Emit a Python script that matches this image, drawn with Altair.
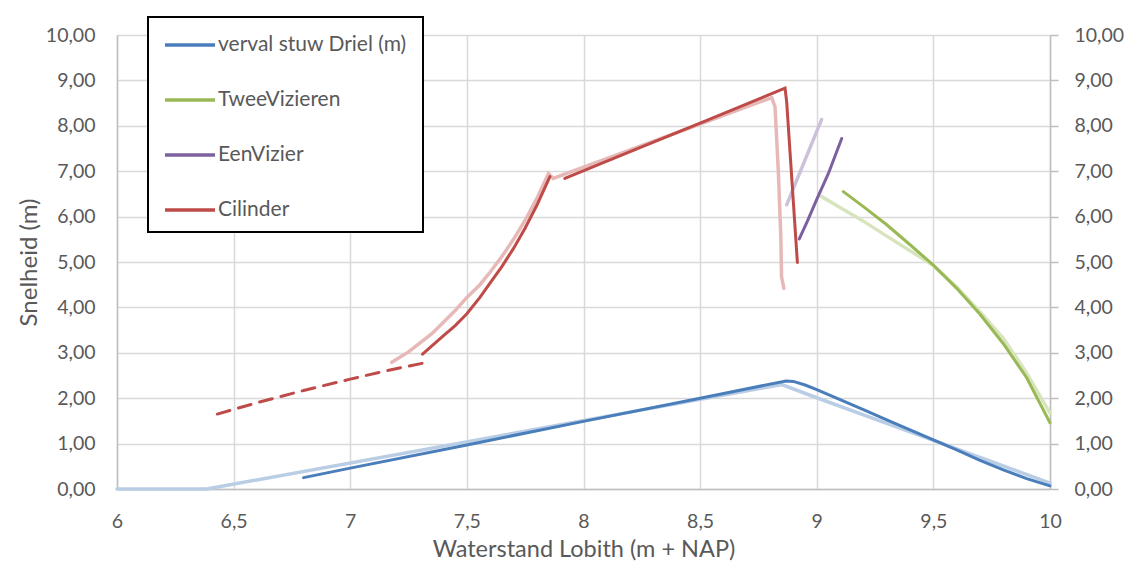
import altair as alt
import pandas as pd

# ---------------- data ----------------
NAMES = ["verval stuw Driel (m)", "TweeVizieren", "EenVizier", "Cilinder"]
LIGHT = ["verval licht", "TweeVizieren licht", "EenVizier licht", "Cilinder licht"]
DARK_COLORS = ["#4a7ebb", "#98b954", "#7d60a0", "#be4b48"]
LIGHT_COLORS = ["#b9cde5", "#d7e4bd", "#ccc1da", "#e6b9b8"]

x_ticks = [6, 6.5, 7, 7.5, 8, 8.5, 9, 9.5, 10]
y_ticks = [0, 1, 2, 3, 4, 5, 6, 7, 8, 9, 10]

# verval stuw Driel
blue_x = [6.80, 7.0, 7.5, 8.0, 8.5, 8.868, 8.9, 8.95, 9.0, 9.05, 9.1, 9.2, 9.3, 9.4,
          9.5, 9.6, 9.7, 9.8, 9.9, 10.0]
blue_y = [0.25, 0.46, 0.97, 1.49, 2.00, 2.38, 2.37, 2.29, 2.19, 2.08, 1.97, 1.75, 1.52, 1.30,
          1.08, 0.86, 0.63, 0.42, 0.23, 0.07]
blue_l_x = [6.0, 6.385, 8.85, 9.0, 9.25, 9.5, 9.75, 10.0]
blue_l_y = [0.0, 0.0, 2.30, 2.01, 1.54, 1.07, 0.60, 0.13]

# TweeVizieren
green_x = [9.114, 9.2, 9.3, 9.4, 9.5, 9.6, 9.7, 9.8, 9.9, 10.0]
green_y = [6.55, 6.22, 5.82, 5.38, 4.93, 4.42, 3.85, 3.20, 2.45, 1.46]
green_l_x = [9.021, 9.1, 9.2, 9.3, 9.4, 9.5, 9.6, 9.7, 9.8, 9.9, 10.0]
green_l_y = [6.44, 6.20, 5.90, 5.57, 5.25, 4.92, 4.45, 3.90, 3.32, 2.55, 1.67]

# EenVizier
purple_x = [8.925, 8.96, 9.0, 9.05, 9.107]
purple_y = [5.51, 5.90, 6.38, 6.95, 7.72]
purple_l_x = [8.871, 8.946, 9.021]
purple_l_y = [6.26, 7.20, 8.14]

# Cilinder (two solid pieces + dashed start)
red_a_x = [7.31, 7.35, 7.4, 7.45, 7.5, 7.556, 7.6, 7.65, 7.7, 7.75, 7.8, 7.856]
red_a_y = [2.97, 3.15, 3.38, 3.60, 3.86, 4.22, 4.54, 4.90, 5.30, 5.75, 6.25, 6.88]
red_b_x = [7.92, 8.2, 8.5, 8.864, 8.871, 8.917]
red_b_y = [6.84, 7.43, 8.06, 8.83, 8.53, 4.99]
red_dash_x = [6.43, 6.6, 6.8, 7.0, 7.15, 7.31]
red_dash_y = [1.65, 1.90, 2.17, 2.42, 2.60, 2.77]
red_l_x = [7.178, 7.25, 7.35, 7.45, 7.5, 7.556, 7.6, 7.65, 7.7, 7.75, 7.8, 7.85, 7.87,
           8.2, 8.5, 8.807, 8.821, 8.835, 8.846, 8.849, 8.859]
red_l_y = [2.79, 3.02, 3.42, 3.93, 4.22, 4.50, 4.78, 5.12, 5.50, 5.92, 6.40, 6.95, 6.84,
           7.47, 8.04, 8.62, 8.42, 7.03, 5.56, 4.68, 4.42]

# ---------------- tables ----------------
def table(parts):
    rows = []
    for series, seg, xs, ys in parts:
        for i, (x, y) in enumerate(zip(xs, ys)):
            rows.append({"series": series, "seg": seg, "x": x, "y": y, "i": i})
    return pd.DataFrame(rows)

light_df = table([
    (LIGHT[0], "bl", blue_l_x, blue_l_y),
    (LIGHT[1], "gl", green_l_x, green_l_y),
    (LIGHT[2], "pl", purple_l_x, purple_l_y),
    (LIGHT[3], "rl", red_l_x, red_l_y),
])
dark_df = table([
    (NAMES[0], "b", blue_x, blue_y),
    (NAMES[1], "g", green_x, green_y),
    (NAMES[2], "p", purple_x, purple_y),
    (NAMES[3], "ra", red_a_x, red_a_y),
    (NAMES[3], "rb", red_b_x, red_b_y),
])
dash_df = table([(NAMES[3], "rd", red_dash_x, red_dash_y)])

FONT = "Lato"
GREY = "#595959"
fmt_y = "replace(format(datum.value, '.2f'), '.', ',')"
fmt_x = "replace(format(datum.value, '~g'), '.', ',')"

x_scale = alt.Scale(domain=[6, 10], nice=False, zero=False)
y_scale = alt.Scale(domain=[0, 10], nice=False)

x_axis = alt.Axis(values=x_ticks, labelExpr=fmt_x, title="Waterstand Lobith (m + NAP)",
                  grid=True, gridColor="#d9d9d9", gridWidth=1.5, labelFlush=False,
                  domainColor="#bfbfbf", domainWidth=1.5, ticks=False, tickSize=0,
                  labelPadding=23, labelFontSize=19.5, labelColor=GREY, labelFont=FONT,
                  titleFontSize=23.5, titleColor=GREY, titleFont=FONT, titleFontWeight="normal",
                  titlePadding=7)
y_axis_left = alt.Axis(values=y_ticks, labelExpr=fmt_y, title="Snelheid (m)", orient="left",
                       grid=True, gridColor="#d9d9d9", gridWidth=1.5, labelFlush=False,
                       domainColor="#bfbfbf", domainWidth=1.5, ticks=False, tickSize=0,
                       labelPadding=22, labelFontSize=19.5, labelColor=GREY, labelFont=FONT,
                       titleFontSize=24, titleColor=GREY, titleFont=FONT, titleFontWeight="normal",
                       titlePadding=4)
y_axis_right = alt.Axis(values=y_ticks, labelExpr=fmt_y, title=None, orient="right",
                        grid=False, domainColor="#bfbfbf", domainWidth=1.5, labelFlush=False,
                        ticks=True, tickSize=8, tickColor="#bfbfbf", tickWidth=1.5,
                        labelPadding=16, labelFontSize=19.5, labelColor=GREY, labelFont=FONT)

color = alt.Color("series:N",
                  scale=alt.Scale(domain=NAMES + LIGHT, range=DARK_COLORS + LIGHT_COLORS),
                  legend=alt.Legend(values=NAMES, title=" ", titleOrient="bottom",
                                    titleFontSize=8, titlePadding=3,
                                    orient="none", legendX=31, legendY=-18,
                                    symbolType="stroke", symbolSize=2500,
                                    symbolStrokeWidth=3.5, symbolOffset=14,
                                    labelFontSize=21, labelColor=GREY, labelFont=FONT,
                                    labelOffset=1, labelLimit=400,
                                    labelExpr="datum.label + '\u2800'",
                                    rowPadding=18, padding=1,
                                    strokeColor="black", fillColor="white",
                                    cornerRadius=0))

light = alt.Chart(light_df).mark_line(strokeWidth=3.5, strokeCap="round").encode(
    x=alt.X("x:Q", scale=x_scale, axis=x_axis),
    y=alt.Y("y:Q", scale=y_scale, axis=y_axis_left),
    color=color,
    detail="seg:N",
    order="i:Q",
)
dark = alt.Chart(dark_df).mark_line(strokeWidth=3, strokeCap="round").encode(
    x=alt.X("x:Q", scale=x_scale, axis=x_axis),
    y=alt.Y("y:Q", scale=y_scale, axis=None),
    color=color,
    detail="seg:N",
    order="i:Q",
)
dashed = alt.Chart(dash_df).mark_line(strokeWidth=3, strokeDash=[13, 9], strokeCap="round").encode(
    x=alt.X("x:Q", scale=x_scale, axis=x_axis),
    y=alt.Y("y:Q", scale=y_scale, axis=y_axis_right),
    color=color,
    detail="seg:N",
    order="i:Q",
)

chart = alt.layer(light, dark, dashed).resolve_axis(y="independent").properties(
    width=933, height=454,
    autosize=alt.AutoSizeParams(type="none"),
    padding={"left": 117, "top": 35, "right": 91, "bottom": 82},
    background="white",
).configure_view(stroke=None).configure_legend(strokeWidth=2)

chart.save("out.html", embed_options={"renderer": "svg", "actions": False})
